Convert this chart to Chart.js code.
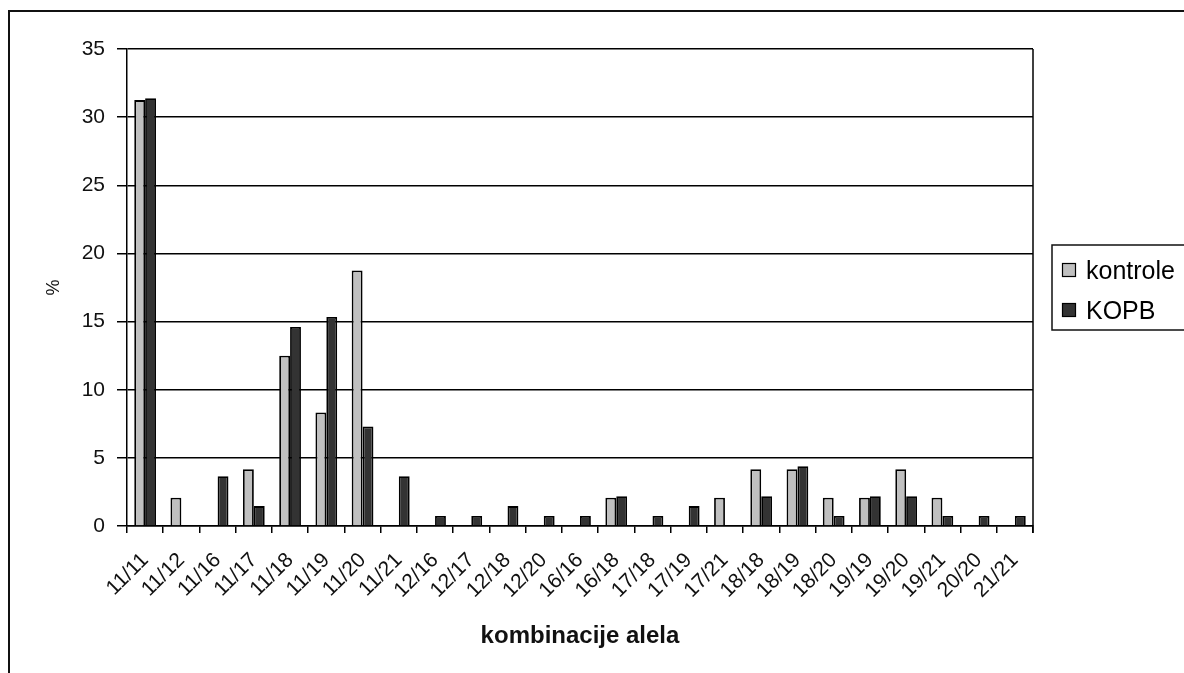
<!DOCTYPE html>
<html>
<head>
<meta charset="utf-8">
<script src="https://cdn.jsdelivr.net/npm/chart.js@4"></script>
<style>
html,body{margin:0;padding:0;background:#fff;}
#wrap{width:1184px;height:673px;position:relative;}
</style>
</head>
<body>
<div id="wrap"><canvas id="c" width="1184" height="673"></canvas></div>
<script>
const categories = ["11/11","11/12","11/16","11/17","11/18","11/19","11/20","11/21","12/16","12/17","12/18","12/20","16/16","16/18","17/18","17/19","17/21","18/18","18/19","18/20","19/19","19/20","19/21","20/20","21/21"];
const kontrole = [31.25,2.08,0,4.17,12.5,8.33,18.75,0,0,0,0,0,0,2.08,0,0,2.08,4.17,4.17,2.08,2.08,4.17,2.08,0,0];
const kopb = [31.39,0,3.65,1.46,14.6,15.33,7.3,3.65,0.73,0.73,1.46,0.73,0.73,2.19,0.73,1.46,0,2.19,4.38,0.73,2.19,2.19,0.73,0.73,0.73];
const yTicks = [0,5,10,15,20,25,30,35];
const seriesNames = ["kontrole","KOPB"];
const seriesColors = ["#c0c0c0","#333333"];

const FONT = "'Liberation Sans', Arial, sans-serif";

const extras = {
  id: 'extras',
  afterDraw(chart) {
    const ctx = chart.ctx;
    const a = chart.chartArea;
    ctx.save();
    ctx.strokeStyle = '#000';
    ctx.lineWidth = 1.5;
    ctx.beginPath();
    ctx.moveTo(a.right, a.top);
    ctx.lineTo(a.right, a.bottom + 7);
    ctx.stroke();
    ctx.lineWidth = 2;
    ctx.strokeStyle = '#111';
    ctx.strokeRect(9, 11, 1300, 800);
    ctx.lineWidth = 1.5;
    ctx.strokeRect(1052, 245, 160, 85);
    ctx.font = '25px ' + FONT;
    ctx.textBaseline = 'alphabetic';
    const ys = [263, 303];
    chart.data.datasets.forEach((ds, i) => {
      ctx.fillStyle = ds.backgroundColor;
      ctx.fillRect(1062, ys[i], 14, 14);
      ctx.strokeStyle = '#000';
      ctx.lineWidth = 1.2;
      ctx.strokeRect(1062.5, ys[i] + 0.5, 13, 13);
      ctx.fillStyle = '#000';
      ctx.fillText(ds.label, 1086, ys[i] + 16);
    });
    ctx.restore();
  }
};

new Chart(document.getElementById('c'), {
  type: 'bar',
  data: {
    labels: categories,
    datasets: [
      {label: seriesNames[0], data: kontrole, backgroundColor: seriesColors[0], borderColor: '#000', borderWidth: 1.8, borderSkipped: 'bottom'},
      {label: seriesNames[1], data: kopb, backgroundColor: seriesColors[1], borderColor: '#000', borderWidth: 1.8, borderSkipped: 'bottom'}
    ]
  },
  options: {
    responsive: false,
    animation: false,
    events: [],
    layout: {padding: {top: 49, right: 151, left: 0, bottom: 0}},
    datasets: {bar: {categoryPercentage: 0.6, barPercentage: 1.0}},
    plugins: {legend: {display: false}, tooltip: {enabled: false}},
    scales: {
      x: {
        grid: {display: true, offset: true, drawOnChartArea: false, drawTicks: true, tickLength: 7, color: '#000', lineWidth: 1.5},
        border: {display: true, color: '#000', width: 1.5},
        ticks: {minRotation: 45, maxRotation: 45, autoSkip: false, padding: 15, color: '#111', font: {family: FONT, size: 21}},
        title: {display: true, text: 'kombinacije alela', color: '#111', font: {family: FONT, size: 24, weight: 'bold'}, padding: {top: 0, bottom: 22}},
        afterFit(s) { s.height = 147; }
      },
      y: {
        min: 0, max: 35,
        afterBuildTicks(s) { s.ticks = yTicks.map(v => ({value: v})); },
        grid: {color: '#000', lineWidth: 1.5, tickLength: 10, drawTicks: true},
        border: {display: true, color: '#000', width: 1.5},
        ticks: {padding: 12, color: '#111', font: {family: FONT, size: 21}},
        title: {display: true, text: '%', color: '#111', font: {family: FONT, size: 18}, padding: {top: 43, bottom: 0}},
        afterFit(s) { s.width = 127; }
      }
    }
  },
  plugins: [extras]
});
</script>
</body>
</html>
